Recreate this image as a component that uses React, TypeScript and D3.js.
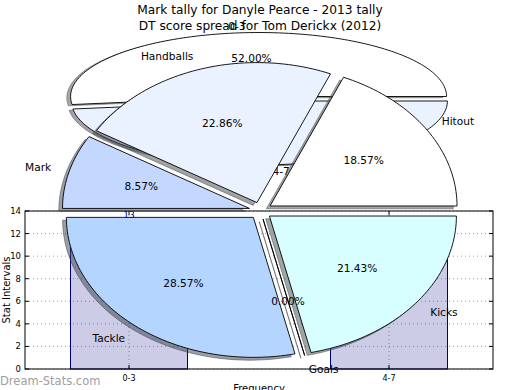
import React from "react";
import * as d3 from "d3";

const titleTop = "Mark tally for Danyle Pearce - 2013 tally";
const titleBottom = "DT score spread for Tom Derickx (2012)";

const markLabels = ["Hitout", "Handballs", "Mark", "Tackle", "Goals", "Kicks"];
const markCounts = [13, 16, 6, 20, 0, 15];
const markColors = ["#ffffff", "#eaf1ff", "#c4d7ff", "#b3d5ff", "#cfe6ff", "#d7ffff"];

const dtLabels = ["0-3", "4-7"];
const dtCounts = [13, 12];
const dtColors = ["#ffffff", "#eaf1ff"];

const yTicks = [0, 2, 4, 6, 8, 10, 12, 14];

const FONT = "DejaVu Sans, sans-serif";

type PieSpec = {
  labels: string[];
  values: number[];
  colors: string[];
  cx: number;
  cy: number;
  rx: number;
  ry: number;
  explode: number;
};

function EllipsePie({ labels, values, colors, cx, cy, rx, ry, explode }: PieSpec) {
  const x = d3.scaleLinear().domain([-1, 1]).range([cx - rx, cx + rx]);
  const y = d3.scaleLinear().domain([-1, 1]).range([cy + ry, cy - ry]);
  const arcs = d3.pie<number>().sort(null).startAngle(0).endAngle(2 * Math.PI)(values);
  const total = d3.sum(values);
  const line = d3
    .line<[number, number]>()
    .x((d) => x(d[0]))
    .y((d) => y(d[1]));
  const wedges = arcs.map((a, i) => {
    const mid = (a.startAngle + a.endAngle) / 2;
    const ox = explode * Math.cos(mid);
    const oy = explode * Math.sin(mid);
    const pts: [number, number][] = [[ox, oy]];
    const n = Math.max(2, Math.ceil(((a.endAngle - a.startAngle) / (2 * Math.PI)) * 240));
    for (let k = 0; k <= n; k++) {
      const t = a.startAngle + ((a.endAngle - a.startAngle) * k) / n;
      pts.push([ox + Math.cos(t), oy + Math.sin(t)]);
    }
    const d = line(pts) + "Z";
    const lx = ox + 1.1 * Math.cos(mid);
    const ly = oy + 1.1 * Math.sin(mid);
    const px = ox + 0.6 * Math.cos(mid);
    const py = oy + 0.6 * Math.sin(mid);
    return {
      d,
      color: colors[i],
      label: labels[i],
      lx: x(lx),
      ly: y(ly),
      anchor: lx > 0 ? "start" : "end",
      px: x(px),
      py: y(py),
      pct: ((values[i] / total) * 100).toFixed(2) + "%",
    };
  });
  const sdx = x(-0.02) - x(0);
  const sdy = y(-0.02) - y(0);
  const shadowColor = (c: string) => {
    const rgb = d3.rgb(c);
    return d3.rgb(rgb.r * 0.3, rgb.g * 0.3, rgb.b * 0.3).toString();
  };
  return (
    <g>
      <g transform={`translate(${sdx},${sdy})`}>
        {wedges.map((w, i) => (
          <path
            key={"s" + i}
            d={w.d}
            fill={shadowColor(w.color)}
            fillOpacity={0.5}
            stroke={shadowColor(w.color)}
            strokeOpacity={0.5}
            strokeWidth={1}
          />
        ))}
      </g>
      {wedges.map((w, i) => (
        <path key={"w" + i} d={w.d} fill={w.color} stroke="#000" strokeWidth={0.9} strokeLinejoin="miter" />
      ))}
      {wedges.map((w, i) => (
        <g key={"t" + i} fontFamily={FONT} fontSize={10.6} fill="#000">
          <text x={w.lx} y={w.ly} textAnchor={w.anchor} dominantBaseline="central">
            {w.label}
          </text>
          <text x={w.px} y={w.py} textAnchor="middle" dominantBaseline="central">
            {w.pct}
          </text>
        </g>
      ))}
    </g>
  );
}

function Histogram() {
  const left = 25,
    right = 493,
    top = 211,
    bottom = 369;
  const x = d3.scaleLinear().domain([-0.4, 1.4]).range([left, right]);
  const y = d3.scaleLinear().domain([0, 14]).range([bottom, top]);
  const bw = 0.45;
  return (
    <g fontFamily={FONT}>
      <rect x={left} y={top} width={right - left} height={bottom - top} fill="#fff" />
      {yTicks.map((t) => (
        <line key={"gy" + t} x1={left} x2={right} y1={y(t)} y2={y(t)} stroke="#a0a0a0" strokeWidth={1} strokeDasharray="1,3" />
      ))}
      {dtLabels.map((l, i) => (
        <line key={"gx" + l} x1={x(i)} x2={x(i)} y1={top} y2={bottom} stroke="#a0a0a0" strokeWidth={1} strokeDasharray="1,3" />
      ))}
      {dtCounts.map((v, i) => (
        <rect
          key={"b" + i}
          x={x(i - bw / 2)}
          y={y(v)}
          width={x(bw) - x(0)}
          height={y(0) - y(v)}
          fill="#000080"
          fillOpacity={0.2}
          stroke="#000080"
          strokeWidth={1}
        />
      ))}
      {dtCounts.map((v, i) => (
        <text key={"bl" + i} x={x(i)} y={y(v) - 4} textAnchor="middle" fontSize={9} fill="#000080">
          {v}
        </text>
      ))}
      <rect x={left} y={top} width={right - left} height={bottom - top} fill="none" stroke="#000" strokeWidth={1} />
      {yTicks.map((t) => (
        <g key={"ty" + t}>
          <line x1={left} x2={left + 4} y1={y(t)} y2={y(t)} stroke="#000" />
          <line x1={right - 4} x2={right} y1={y(t)} y2={y(t)} stroke="#000" />
          <text x={left - 4} y={y(t)} textAnchor="end" dominantBaseline="central" fontSize={8.5} fill="#000">
            {t}
          </text>
        </g>
      ))}
      {dtLabels.map((l, i) => (
        <g key={"tx" + l}>
          <line x1={x(i)} x2={x(i)} y1={bottom} y2={bottom - 4} stroke="#000" />
          <line x1={x(i)} x2={x(i)} y1={top} y2={top + 4} stroke="#000" />
          <text x={x(i)} y={bottom + 9} textAnchor="middle" dominantBaseline="central" fontSize={8} fill="#000">
            {l}
          </text>
        </g>
      ))}
      <text
        transform={`translate(6,${(top + bottom) / 2}) rotate(-90)`}
        textAnchor="middle"
        dominantBaseline="central"
        fontSize={10}
        fill="#000"
      >
        Stat Intervals
      </text>
      <text x={(left + right) / 2} y={392} textAnchor="middle" fontSize={10} fill="#000">
        Frequency
      </text>
    </g>
  );
}

export default function App() {
  return (
    <svg
      width={520}
      height={390}
      viewBox="0 0 520 390"
      style={{ position: "absolute", left: 0, top: 0, background: "#fff" }}
    >
      <rect x={0} y={0} width={520} height={390} fill="#fff" />
      <Histogram />
      <g fontFamily={FONT} fontSize={12.2} fill="#000" textAnchor="middle">
        <text x={260} y={10} dominantBaseline="central">
          {titleTop}
        </text>
        <text x={260} y={26} dominantBaseline="central">
          {titleBottom}
        </text>
      </g>
      <EllipsePie labels={dtLabels} values={dtCounts} colors={dtColors} cx={259} cy={98.75} rx={188} ry={64} explode={0.035} />
      <EllipsePie
        labels={markLabels}
        values={markCounts}
        colors={markColors}
        cx={260.5}
        cy={210.7}
        rx={187}
        ry={140}
        explode={0.061}
      />
      <text x={0} y={381} dominantBaseline="central" fontFamily={FONT} fontSize={11.5} fill="#a0a0a0">
        Dream-Stats.com
      </text>
    </svg>
  );
}
